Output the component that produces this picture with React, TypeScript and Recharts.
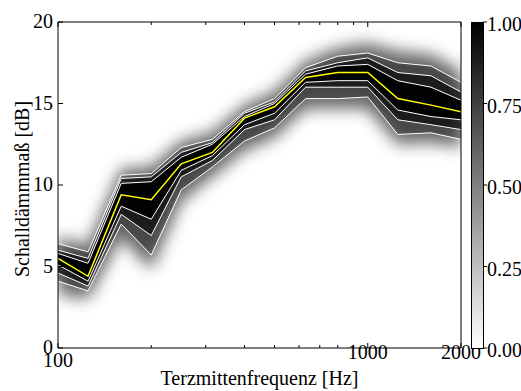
import React from 'react';
import { ComposedChart, Area, Line, XAxis, YAxis } from 'recharts';

// Terzband-Mittenfrequenzen [Hz]
const freqs = [100, 125, 160, 200, 250, 315, 400, 500, 630, 800, 1000, 1250, 1600, 2000];
// Median (gelb)
const median = [5.5, 4.4, 9.4, 9.1, 11.3, 12.0, 14.1, 14.8, 16.6, 16.9, 16.9, 15.3, 14.9, 14.5];
// weiße Konturlinien oberhalb / unterhalb
const hi1 = [5.8, 5.2, 10.1, 10.2, 11.7, 12.5, 14.2, 15.0, 16.8, 17.3, 17.4, 16.4, 16.0, 15.2];
const hi2 = [6.0, 5.5, 10.4, 10.5, 12.0, 12.6, 14.4, 15.1, 17.0, 17.5, 17.8, 16.9, 16.7, 15.7];
const hi3 = [6.4, 5.9, 10.6, 10.7, 12.3, 12.8, 14.5, 15.3, 17.2, 17.9, 18.1, 17.5, 17.3, 16.3];
const lo1 = [5.1, 4.1, 8.7, 7.9, 10.9, 11.8, 13.7, 14.4, 16.3, 16.4, 16.4, 14.6, 14.2, 14.0];
const lo2 = [4.6, 3.8, 8.2, 6.9, 10.5, 11.5, 13.4, 14.0, 16.0, 16.0, 16.0, 14.0, 13.7, 13.4];
const lo3 = [4.1, 3.5, 7.6, 5.7, 9.7, 11.1, 12.7, 13.5, 15.3, 15.3, 15.4, 13.1, 13.2, 12.8];
// äußere Grenze der grauen Dichte (Mitte des Ausblendens)
const fadeHi = [6.8, 6.3, 11.0, 11.1, 12.7, 13.2, 14.9, 15.7, 17.6, 18.4, 18.7, 18.2, 18.0, 17.0];
const fadeLo = [3.3, 3.0, 6.8, 4.8, 9.0, 10.5, 12.1, 12.9, 14.7, 14.7, 14.7, 12.5, 12.6, 12.3];

const xTicks = [100, 200, 300, 400, 500, 600, 700, 800, 900, 1000, 2000];
const xLabels = [100, 1000, 2000];
const yTicks = [0, 5, 10, 15, 20];
const cbTicks = [0, 0.25, 0.5, 0.75, 1];

const FONT = '"Liberation Serif", "Times New Roman", serif';

const data = freqs.map((f, i) => ({
  f,
  med: median[i],
  hi1: hi1[i], hi2: hi2[i], hi3: hi3[i],
  lo1: lo1[i], lo2: lo2[i], lo3: lo3[i],
  b1: [lo1[i], hi1[i]],
  b2: [lo2[i], hi2[i]],
  b3: [lo3[i], hi3[i]],
  fade: [fadeLo[i], fadeHi[i]],
}));

const cbData = cbTicks.map((v, i) => ({ i, v }));

function BottomTick({ x, y, payload }: any) {
  const v = payload.value;
  const major = xLabels.includes(v);
  return (
    <g>
      <line x1={x} y1={y} x2={x} y2={y - (major ? 5 : 3)} stroke="#000" />
      {major && (
        <text x={x} y={y + (v === 100 ? 19 : 11)} textAnchor="middle" fontSize={20} fontFamily={FONT} fill="#000">
          {v}
        </text>
      )}
    </g>
  );
}

function TopTick({ x, y, payload }: any) {
  const major = xLabels.includes(payload.value);
  return <line x1={x} y1={y} x2={x} y2={y + (major ? 5 : 3)} stroke="#000" />;
}

function LeftTick({ x, y, payload }: any) {
  return (
    <g>
      <line x1={x} y1={y} x2={x + 5} y2={y} stroke="#000" />
      <text x={x - 5} y={y + 6} textAnchor="end" fontSize={20} fontFamily={FONT} fill="#000">
        {payload.value}
      </text>
    </g>
  );
}

function RightTick({ x, y }: any) {
  return <line x1={x} y1={y} x2={x - 5} y2={y} stroke="#000" />;
}

function CbTick({ x, y, payload }: any) {
  return (
    <g>
      <line x1={x - 1} y1={y} x2={x + 3} y2={y} stroke="#000" />
      <text x={x + 3} y={y + 9} textAnchor="start" fontSize={20} fontFamily={FONT} fill="#000">
        {payload.value.toFixed(2)}
      </text>
    </g>
  );
}

export default function App() {
  return (
    <div style={{ position: 'absolute', left: 0, top: 0, width: 521, height: 391, background: '#fff' }}>
      <ComposedChart width={521} height={391} data={data} margin={{ top: 12, right: 50, bottom: 33, left: 48 }}>
        <defs>
          <filter id="fadeBlur" x="-20%" y="-50%" width="140%" height="200%">
            <feGaussianBlur stdDeviation="8" />
          </filter>
        </defs>
        <XAxis dataKey="f" type="number" scale="log" domain={[100, 2000]} ticks={xTicks} interval={0}
          allowDataOverflow height={10} tickSize={0} tickMargin={0} tick={<BottomTick />} axisLine={{ stroke: '#000' }} />
        <XAxis xAxisId="top" orientation="top" dataKey="f" type="number" scale="log" domain={[100, 2000]}
          ticks={xTicks} interval={0} allowDataOverflow height={10} tickSize={0} tickMargin={0} tick={<TopTick />}
          axisLine={{ stroke: '#000' }} />
        <YAxis type="number" domain={[0, 20]} ticks={yTicks} interval={0} allowDataOverflow width={10}
          tickSize={0} tickMargin={0} tick={<LeftTick />} axisLine={{ stroke: '#000' }} />
        <YAxis yAxisId="right" orientation="right" type="number" domain={[0, 20]} ticks={yTicks} interval={0}
          width={10} tickSize={0} tickMargin={0} tick={<RightTick />} axisLine={{ stroke: '#000' }} />
        <Area dataKey="fade" type="linear" fill="#000" fillOpacity={0.6} stroke="none" filter="url(#fadeBlur)" isAnimationActive={false} />
        <Area dataKey="b3" type="linear" fill="#000" fillOpacity={0.3} stroke="none" isAnimationActive={false} />
        <Area dataKey="b2" type="linear" fill="#000" fillOpacity={0.6} stroke="none" isAnimationActive={false} />
        <Area dataKey="b1" type="linear" fill="#000" fillOpacity={0.9} stroke="none" isAnimationActive={false} />
        {['hi3', 'hi2', 'hi1', 'lo1', 'lo2', 'lo3'].map((k) => (
          <Line key={k} dataKey={k} type="linear" stroke="#fff" strokeWidth={1} dot={false} isAnimationActive={false} />
        ))}
        <Line dataKey="med" type="linear" stroke="#ffff00" strokeWidth={1.5} dot={false} isAnimationActive={false} />
      </ComposedChart>

      {/* Farbbalken */}
      <div style={{
        position: 'absolute', left: 471, top: 22, width: 13, height: 327, boxSizing: 'border-box',
        border: '1px solid #000', background: 'linear-gradient(to bottom, #000, #fff)',
      }} />

      {/* Achse der Farbskala */}
      <div style={{ position: 'absolute', left: 483, top: 0 }}>
        <ComposedChart width={38} height={391} data={cbData} margin={{ top: 22, right: 0, bottom: 43, left: 0 }}>
          <XAxis dataKey="i" type="number" domain={[0, 4]} hide />
          <YAxis type="number" domain={[0, 1]} ticks={cbTicks} interval={0} width={1}
            tickSize={0} tickMargin={0} axisLine={false} tick={<CbTick />} />
          <Line dataKey="v" stroke="none" dot={false} isAnimationActive={false} />
        </ComposedChart>
      </div>

      <svg width={521} height={391} style={{ position: 'absolute', left: 0, top: 0, pointerEvents: 'none' }}>
        <text x={259.5} y={385} textAnchor="middle" fontSize={20} fontFamily={FONT} fill="#000">
          Terzmittenfrequenz [Hz]
        </text>
        <text transform="translate(29,189) rotate(-90)" textAnchor="middle" fontSize={20} fontFamily={FONT} fill="#000">
          Schalldämmmaß [dB]
        </text>
      </svg>
    </div>
  );
}
